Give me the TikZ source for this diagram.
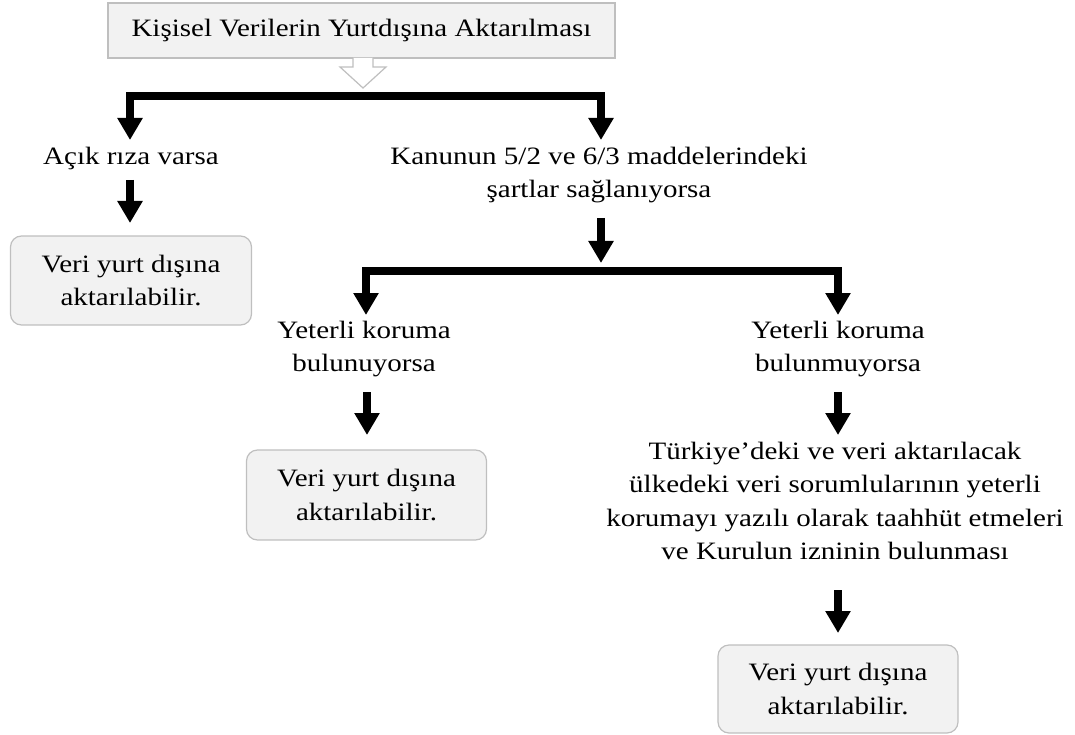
\documentclass[tikz,border=0pt]{standalone}
\usepackage{fontspec}
\setmainfont[FakeStretch=1.16]{Liberation Serif}
\usetikzlibrary{arrows.meta}
\definecolor{boxfill}{HTML}{F2F2F2}
\definecolor{boxline}{HTML}{BFBFBF}
\newcommand{\dfont}{\fontsize{25}{33.5}\selectfont}
\tikzset{
  txt/.style={inner sep=0pt, align=center, font=\dfont},
  resbox/.style={draw=boxline, fill=boxfill, rounded corners=11pt, line width=1.2pt, align=center,
    font=\dfont, inner sep=0pt},
  br/.style={line width=8pt, line join=miter, {Triangle[width=24pt,length=22pt]}-{Triangle[width=24pt,length=22pt]}},
  ar/.style={line width=8pt, -{Triangle[width=24pt,length=22pt]}}
}
\begin{document}
\begin{tikzpicture}[x=1pt,y=-1pt]
\useasboundingbox (0,0) rectangle (1075,735);
% title box
\node[draw=boxline, fill=boxfill, line width=1.2pt, minimum width=507pt, minimum height=55pt, inner sep=0pt,
  font=\dfont] (top) at (361.5,30.5) {Kişisel Verilerin Yurtdışına Aktarılması};
% hollow arrow
\draw[boxline, fill=white, line width=1.2pt, line join=miter]
  (353,58) -- (353,67) -- (340,67) -- (363,88) -- (386,67) -- (373,67) -- (373,58);
% first level
\node[txt] (riza) at (131,158) {Açık rıza varsa};
\node[txt] (kanun) at (599,175) {Kanunun 5/2 ve 6/3 maddelerindeki\\şartlar sağlanıyorsa};
\coordinate (b1l) at (130,140);
\coordinate (b1m) at (130,96);
\coordinate (b1r) at (601,140);
\draw[br] (b1l) -- (b1m) -| (b1r);
% left result
\coordinate (a1s) at (130,180);
\coordinate (a1e) at (130,223);
\draw[ar] (a1s) -- (a1e);
\node[resbox, minimum width=241pt, minimum height=89pt] (res1) at (131,280.5) {Veri yurt dışına\\aktarılabilir.};
% second level
\coordinate (a2s) at (601,218);
\coordinate (a2e) at (601,263);
\draw[ar] (a2s) -- (a2e);
\coordinate (b2l) at (366,315);
\coordinate (b2m) at (366,271);
\coordinate (b2r) at (838,315);
\draw[br] (b2l) -- (b2m) -| (b2r);
\node[txt] (yk1) at (364,349) {Yeterli koruma\\bulunuyorsa};
\node[txt] (yk2) at (838,349) {Yeterli koruma\\bulunmuyorsa};
\coordinate (a3s) at (367,392);
\coordinate (a3e) at (367,435);
\draw[ar] (a3s) -- (a3e);
\node[resbox, minimum width=240pt, minimum height=90pt] (res2) at (366.5,495) {Veri yurt dışına\\aktarılabilir.};
\coordinate (a4s) at (838,392);
\coordinate (a4e) at (838,435);
\draw[ar] (a4s) -- (a4e);
\node[txt] (long) at (835,501) {Türkiye’deki ve veri aktarılacak\\ülkedeki veri sorumlularının yeterli\\korumayı yazılı olarak taahhüt etmeleri\\ve Kurulun izninin bulunması};
\coordinate (a5s) at (838,590);
\coordinate (a5e) at (838,633);
\draw[ar] (a5s) -- (a5e);
\node[resbox, minimum width=240pt, minimum height=88pt] (res3) at (838,689) {Veri yurt dışına\\aktarılabilir.};
\end{tikzpicture}
\end{document}
